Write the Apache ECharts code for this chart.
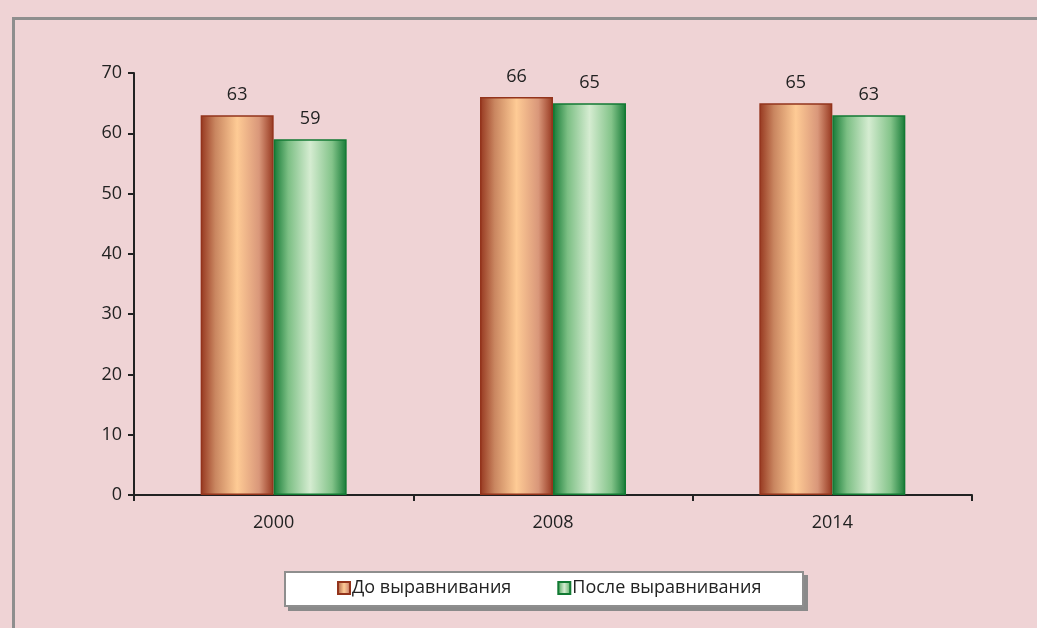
<!DOCTYPE html>
<html>
<head>
<meta charset="utf-8">
<script src="https://cdn.jsdelivr.net/npm/echarts@6/dist/echarts.min.js"></script>
<style>
html,body{margin:0;padding:0;background:#efd3d5;}
#c{width:1037px;height:628px;}
</style>
</head>
<body>
<div id="c"></div>
<script>
var categories = ['2000', '2008', '2014'];
var seriesNames = ['До выравнивания', 'После выравнивания'];
var beforeValues = [63, 66, 65];
var afterValues = [59, 65, 63];
var yTicks = [0, 10, 20, 30, 40, 50, 60, 70];

var chart = echarts.init(document.getElementById('c'));
var G = echarts.graphic.LinearGradient;
var orangeFill = new G(0, 0, 1, 0, [
  {offset: 0, color: '#96371f'},
  {offset: 0.2, color: '#c98660'},
  {offset: 0.5, color: '#fecb95'},
  {offset: 0.8, color: '#d9977a'},
  {offset: 1, color: '#96371f'}
]);
var greenFill = new G(0, 0, 1, 0, [
  {offset: 0, color: '#157a36'},
  {offset: 0.2, color: '#7cbf84'},
  {offset: 0.5, color: '#d5ecd1'},
  {offset: 0.8, color: '#84c48a'},
  {offset: 1, color: '#157a36'}
]);
var fontFam = '"Open Sans", "Noto Sans", sans-serif';
var FS = 18;
var labelStyle = {show: true, position: 'top', distance: 11, color: '#222', fontSize: FS, fontFamily: fontFam};

chart.setOption({
  backgroundColor: '#efd3d5',
  animation: false,
  graphic: [{
    type: 'rect', left: 11, top: 16, silent: true, z: -1,
    shape: {x: 0, y: 0, width: 1100, height: 700},
    style: {fill: 'none', stroke: '#8e8e8e', lineWidth: 3}
  }, {
    type: 'rect', left: 288, top: 575, silent: true, z: -2,
    shape: {x: 0, y: 0, width: 520, height: 36},
    style: {fill: '#8a8a8a'}
  }, {
    type: 'rect', left: 284, top: 571, silent: true, z: -1,
    shape: {x: 0, y: 0, width: 518, height: 34},
    style: {fill: '#ffffff', stroke: '#8e8e8e', lineWidth: 2}
  }],
  grid: {left: 134, right: 65, top: 73, bottom: 133},
  legend: {
    data: seriesNames,
    left: 337, top: 579,
    padding: 0,
    itemGap: 46,
    itemWidth: 12, itemHeight: 12,
    icon: 'rect',
    textStyle: {fontSize: FS, color: '#222', fontFamily: fontFam, padding: [0, 0, 0, -3]}
  },
  xAxis: {
    type: 'category', data: categories,
    axisLine: {lineStyle: {color: '#222', width: 2}},
    axisTick: {show: true, length: 6, lineStyle: {color: '#222', width: 2}},
    axisLabel: {color: '#222', fontSize: FS, margin: 19, fontFamily: fontFam}
  },
  yAxis: {
    type: 'value', min: 0, max: 70, interval: 10,
    axisLine: {show: true, lineStyle: {color: '#222', width: 2}},
    axisTick: {show: true, inside: false, length: 6, lineStyle: {color: '#222', width: 2}},
    splitLine: {show: false},
    axisLabel: {color: '#222', fontSize: FS, margin: 12, fontFamily: fontFam}
  },
  series: [{
    name: seriesNames[0], type: 'bar', data: beforeValues,
    barWidth: 73, barGap: '0%',
    itemStyle: {color: orangeFill, borderColor: '#93341c', borderWidth: 1.5},
    label: labelStyle
  }, {
    name: seriesNames[1], type: 'bar', data: afterValues,
    barWidth: 73, barGap: '0%',
    itemStyle: {color: greenFill, borderColor: '#127a33', borderWidth: 1.5},
    label: labelStyle
  }]
});
</script>
</body>
</html>
